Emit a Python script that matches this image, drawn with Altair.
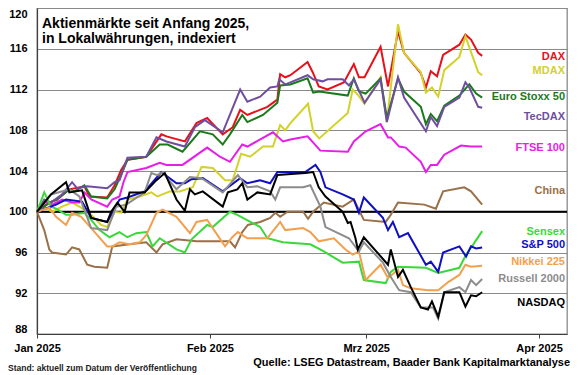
import altair as alt
import pandas as pd

FONT = "Liberation Sans, Arial, sans-serif"
BASE_DATE = pd.Timestamp("2025-01-01")

# ---- series: day offsets since 1 Jan 2025 and index values ----
dax_t = [0, 2.2, 3.6, 5.8, 8.5, 9.4, 12.6, 13.9, 15.1, 16.2, 19.6, 22.3, 23.2, 26.5, 28.6, 30.5, 33.3, 35.1, 36.4, 37.7,
         41.3, 43.1, 43.6, 44.5, 45.4, 48.5, 49.4, 50.5, 52.1, 55.0, 56.8, 57.7, 58.7, 61.6, 62.9, 64.7, 65.8, 68.8, 69.7,
         70.6, 71.7, 72.8, 75.7, 76.8, 77.8, 79.1, 79.8]
dax_v = [100, 100.9, 101.2, 102.2, 102.5, 101.5, 101.4, 102.6, 104.1, 105.1, 105.4, 107.6, 107.4, 106.9, 108.7, 109.2,
         107.6, 108.3, 110.0, 109.5, 110.3, 111.0, 113.5, 113.2, 113.4, 114.7, 113.7, 112.3, 112.0, 112.7, 114.5, 113.2,
         113.2, 116.2, 112.3, 117.7, 115.6, 113.6, 112.2, 113.8, 113.3, 115.4, 116.4, 117.4, 116.9, 115.6, 115.3]

mdax_t = [0, 1.4, 2.7, 4.5, 6.3, 7.9, 9.7, 11.5, 12.6, 13.9, 15.1, 16.2, 18.4, 20.5, 21.6, 23.8, 25.6, 27.9, 29.5, 31.5,
          33.7, 35.1, 36.6, 38.2, 40.5, 42.3, 43.6, 44.5, 45.4, 48.6, 49.5, 50.6, 55.7, 56.6, 57.5, 58.7, 61.6, 62.7, 64.7,
          65.8, 68.8, 69.7, 70.8, 71.9, 73.0, 75.7, 76.8, 79.1, 79.8]
mdax_v = [100, 100.4, 100, 100.5, 100.9, 100.4, 99.7, 98.7, 98.5, 100, 99.9, 101.2, 101.5, 101.9, 101.5, 102.0, 102.0,
          102.4, 104.4, 104.3, 103.1, 103.1, 105.7, 105.4, 106.4, 106.4, 108.5, 108.0, 108.7, 110.6, 107.9, 107.2, 109.7,
          112.0, 111.5, 110.6, 113.2, 108.8, 118.4, 115.6, 113.7, 111.7, 112.2, 111.3, 113.9, 115.2, 117.2, 113.7, 113.4]

estx_t = [0, 2.2, 3.6, 5.8, 6.7, 8.5, 9.7, 12.6, 13.9, 15.3, 16.2, 19.6, 22.0, 23.4, 26.1, 29.2, 31.5, 33.3, 34.6, 36.8,
          37.7, 40.5, 43.1, 43.6, 45.4, 48.5, 49.5, 50.6, 55.7, 56.8, 57.7, 58.9, 61.6, 62.7, 64.7, 65.8, 68.8, 69.7, 70.6,
          71.7, 73.0, 75.7, 77.5, 78.7, 79.8]
estx_v = [100, 100.9, 101.2, 102.2, 102.0, 102.6, 101.5, 101.3, 102.2, 103.9, 105.1, 105.4, 106.6, 106.6, 105.9, 107.9,
          107.6, 106.6, 107.6, 109.5, 108.8, 109.5, 110.7, 112.4, 112.5, 113.1, 111.7, 111.8, 111.4, 113.1, 111.8, 111.6,
          113.1, 109.2, 113.1, 111.8, 110.3, 108.6, 109.6, 108.9, 110.4, 111.4, 112.5, 111.6, 111.2]

tec_t = [0, 1.3, 2.5, 4.5, 6.3, 7.2, 9.0, 12.6, 13.9, 14.8, 16.2, 19.6, 21.4, 23.2, 26.5, 28.3, 30.1, 33.3, 36.4, 37.7,
         40.0, 41.8, 43.1, 43.4, 44.5, 45.4, 48.5, 49.5, 51.2, 52.1, 54.8, 55.9, 56.8, 58.7, 61.6, 62.7, 64.7, 65.8, 69.7,
         70.6, 71.7, 73.0, 75.7, 76.8, 77.5, 79.1, 79.8]
tec_v = [100, 101.2, 100.9, 101.7, 102.9, 102.3, 102.5, 102.3, 102.9, 103.1, 105.3, 105.4, 107.3, 106.9, 106.4, 108.3,
         109.0, 107.8, 112.0, 110.8, 111.3, 112.2, 112.3, 113.0, 112.5, 112.7, 113.4, 113.0, 112.8, 113.0, 113.0, 112.4,
         113.0, 110.7, 113.0, 108.8, 113.2, 111.2, 107.9, 109.3, 108.4, 110.3, 111.2, 112.7, 112.2, 110.3, 110.2]

ftse_t = [0, 1.6, 2.7, 4.5, 6.3, 7.6, 8.5, 9.7, 12.6, 13.5, 14.8, 15.5, 16.2, 19.6, 22.0, 23.2, 26.1, 30.5, 32.8, 34.6,
          36.8, 37.7, 42.3, 44.1, 45.4, 48.5, 50.8, 55.7, 56.8, 58.9, 61.6, 62.9, 63.4, 64.9, 66.1, 68.8, 69.7, 70.6, 71.7,
          73.0, 76.0, 77.8, 79.8]
ftse_v = [100, 101.0, 100.7, 101.2, 100.9, 100.9, 101.9, 101.2, 100.5, 101.2, 101.5, 102.9, 103.9, 104.3, 104.8, 104.6,
          104.6, 106.3, 105.4, 104.9, 106.6, 106.4, 107.8, 106.9, 107.1, 107.4, 106.0, 105.9, 106.9, 107.9, 108.6, 107.3,
          107.3, 106.4, 106.3, 104.9, 103.9, 104.6, 104.6, 105.6, 106.5, 106.4, 106.4]

china_t = [0, 1.3, 2.2, 2.7, 5.2, 6.3, 7.6, 9.0, 10.3, 12.6, 13.5, 16.6, 19.6, 21.4, 22.5, 25.0, 28.6, 34.6, 35.5, 36.8,
           37.8, 40.0, 41.8, 42.7, 43.6, 44.9, 47.7, 48.6, 49.5, 51.4, 54.8, 56.8, 58.6, 62.5, 63.4, 64.7, 69.4, 71.5,
           72.8, 76.6, 77.8, 79.8]
china_v = [100, 98.2, 96.3, 96.0, 95.8, 96.5, 96.3, 94.8, 94.6, 94.5, 96.6, 96.8, 97.0, 96.0, 96.8, 97.3, 97.1, 97.1,
           96.5, 98.0, 98.7, 99.0, 99.4, 99.9, 99.5, 100.0, 100.0, 99.3, 100.0, 100.9, 100.5, 101.2, 99.2, 99.0, 99.7,
           100.9, 100.7, 100.3, 102.0, 102.4, 102.0, 100.7]

sensex_t = [0, 1.3, 2.5, 3.4, 5.2, 6.3, 8.5, 9.7, 11.2, 13.0, 14.8, 16.2, 17.8, 19.6, 20.7, 22.0, 25.0, 26.5, 27.7, 30.5,
            31.5, 34.6, 35.9, 40.0, 41.3, 44.1, 49.0, 51.4, 54.8, 57.7, 58.6, 62.5, 63.4, 64.7, 69.7, 71.9, 75.7, 76.9,
            78.2, 79.8]
sensex_v = [100, 101.9, 100.5, 100.3, 99.7, 99.7, 99.9, 99.2, 98.2, 97.5, 98.0, 97.5, 97.9, 98.0, 96.6, 97.4, 96.3, 96.0,
            97.3, 98.7, 98.5, 100.0, 99.7, 98.5, 97.4, 97.0, 96.8, 96.1, 95.0, 95.1, 93.3, 93.0, 94.1, 94.6, 94.5, 94.0,
            94.5, 95.8, 96.8, 98.1]

spx_t = [0, 3.4, 5.2, 8.1, 9.7, 12.6, 13.5, 14.8, 16.2, 19.3, 22.3, 25.0, 26.5, 27.7, 29.7, 33.3, 36.4, 37.7, 40.0, 41.8,
         43.1, 48.1, 49.9, 50.8, 51.7, 54.8, 56.8, 57.7, 58.6, 62.0, 62.9, 63.8, 64.9, 66.5, 69.7, 70.6, 71.9, 72.8, 75.7,
         76.9, 77.8, 78.7, 79.8]
spx_v = [100, 100.7, 101.2, 101.0, 99.4, 99.0, 99.9, 101.2, 101.4, 102.0, 103.9, 102.8, 102.8, 103.2, 103.3, 102.0, 103.3,
         102.8, 103.1, 102.8, 103.9, 103.9, 104.6, 103.9, 102.4, 101.7, 101.2, 99.9, 101.4, 99.4, 98.2, 99.0, 97.5, 97.9,
         94.8, 95.1, 94.1, 96.0, 96.6, 95.6, 96.6, 96.4, 96.5]

nikkei_t = [0, 2.2, 3.4, 5.2, 6.3, 7.9, 9.7, 12.6, 13.5, 14.8, 16.6, 18.4, 19.6, 21.4, 22.5, 25.0, 27.4, 28.6, 30.5, 33.7,
            35.0, 36.0, 37.7, 41.3, 43.6, 44.5, 47.7, 49.0, 50.5, 53.2, 55.3, 56.6, 57.7, 58.9, 61.6, 62.9, 64.7, 65.6,
            67.0, 70.1, 71.9, 73.7, 75.7, 76.8, 77.8, 79.8]
nikkei_v = [100, 100.4, 99.5, 98.7, 99.9, 99.5, 98.4, 96.6, 96.6, 97.0, 96.8, 97.0, 97.7, 99.9, 100.2, 99.5, 97.9, 99.0,
            99.2, 96.6, 97.5, 98.0, 97.4, 97.4, 99.0, 98.2, 98.4, 98.0, 97.1, 97.4, 96.3, 95.8, 96.1, 93.3, 94.8, 93.5,
            94.3, 92.8, 92.5, 92.3, 92.3, 93.1, 93.8, 94.8, 94.6, 94.7]

russell_t = [0, 2.5, 5.8, 7.6, 9.7, 12.6, 14.2, 16.0, 19.3, 20.5, 21.6, 22.5, 25.0, 25.6, 27.4, 29.5, 33.3, 36.0, 37.7,
             39.5, 41.8, 42.7, 43.6, 47.7, 49.0, 50.8, 51.7, 55.9, 57.7, 58.6, 62.0, 63.4, 64.9, 67.0, 68.8, 71.0, 71.9,
             73.0, 75.7, 76.8, 77.8, 78.7, 79.8]
russell_v = [100, 101.7, 102.2, 101.5, 98.4, 98.2, 100.5, 100.7, 101.9, 103.8, 103.6, 103.9, 102.2, 102.5, 103.4, 103.3,
             101.9, 103.6, 102.4, 102.5, 102.0, 101.2, 102.4, 102.4, 102.6, 100.5, 98.5, 97.4, 96.1, 97.0, 95.0, 93.6,
             92.3, 92.1, 90.6, 90.6, 89.5, 92.1, 92.6, 92.1, 93.3, 92.8, 93.4]

nasdaq_t = [0, 2.5, 5.2, 5.8, 8.1, 9.7, 12.6, 13.3, 14.4, 15.7, 16.6, 19.3, 21.4, 22.9, 25.0, 26.5, 27.4, 28.3, 29.7,
            33.3, 34.2, 35.9, 36.8, 37.7, 39.5, 41.8, 43.1, 48.1, 49.5, 50.5, 51.7, 54.8, 55.7, 56.2, 57.1, 57.5, 58.6,
            62.9, 63.4, 64.7, 65.6, 67.0, 68.8, 70.1, 70.8, 71.9, 73.0, 75.7, 76.8, 77.8, 78.7, 79.8]
nasdaq_v = [100, 101.7, 102.9, 101.9, 102.1, 99.4, 99.0, 100.0, 100.9, 100.0, 101.9, 101.9, 103.1, 103.8, 101.2, 100.1,
            102.2, 101.7, 102.0, 100.5, 101.9, 102.2, 102.8, 101.2, 101.9, 101.7, 103.6, 103.8, 103.9, 102.4, 101.5,
            100.0, 98.9, 99.0, 97.4, 96.3, 97.5, 94.8, 96.3, 93.6, 94.3, 92.6, 90.6, 90.4, 91.2, 89.7, 92.1, 92.1, 90.7,
            91.8, 91.7, 92.1]

SERIES_NAMES = ["DAX", "MDAX", "Euro Stoxx 50", "TecDAX", "FTSE 100", "China", "Sensex",
                "S&P 500", "Nikkei 225", "Russell 2000", "NASDAQ"]
SERIES_COLORS = ["#e8101a", "#d2d22a", "#1a7a1a", "#6f4ea0", "#e61ee6", "#9a7048", "#3ad83a",
                 "#1010c0", "#f2a050", "#8c8c8c", "#000000"]
LABEL_Y = [115.2, 113.85, 111.25, 109.3, 106.3, 102.05, 98.0, 96.7, 95.1, 93.35, 91.0]

Y_TICKS = [88, 92, 96, 100, 104, 108, 112, 116, 120]
TITLE_LINES = ["Aktienmärkte seit Anfang 2025,", "in Lokalwährungen, indexiert"]
SOURCE = "Quelle: LSEG Datastream, Baader Bank Kapitalmarktanalyse"
STAND = "Stand: aktuell zum Datum der Veröffentlichung"

series_data = {
    "DAX": (dax_t, dax_v), "MDAX": (mdax_t, mdax_v), "Euro Stoxx 50": (estx_t, estx_v),
    "TecDAX": (tec_t, tec_v), "FTSE 100": (ftse_t, ftse_v), "China": (china_t, china_v),
    "Sensex": (sensex_t, sensex_v), "S&P 500": (spx_t, spx_v), "Nikkei 225": (nikkei_t, nikkei_v),
    "Russell 2000": (russell_t, russell_v), "NASDAQ": (nasdaq_t, nasdaq_v),
}

rows = []
for i, name in enumerate(SERIES_NAMES):
    t, v = series_data[name]
    for ti, vi in zip(t, v):
        rows.append({"series": name, "order": i,
                     "date": BASE_DATE + pd.Timedelta(hours=round(ti * 24)), "value": vi})
df = pd.DataFrame(rows)

labels_df = pd.DataFrame({"series": SERIES_NAMES, "value": LABEL_Y})

W, H = 530, 326

x_enc = alt.X(
    "date:T",
    scale=alt.Scale(domain=[alt.DateTime(year=2025, month=1, date=1),
                            alt.DateTime(year=2025, month=4, date=6)]),
    axis=alt.Axis(
        values=[alt.DateTime(year=2025, month=m, date=1) for m in [1, 2, 3, 4]],
        labelExpr="replace(timeFormat(datum.value, '%b %Y'), 'Mar', 'Mrz')",
        title=None, grid=False, domainColor="#404040", domainWidth=1.2,
        tickColor="#404040", tickSize=4, labelPadding=4, labelOverlap=False,
        labelFlush=False,
    ),
)
y_enc = alt.Y(
    "value:Q",
    scale=alt.Scale(domain=[88, 120], nice=False, zero=False),
    axis=alt.Axis(values=Y_TICKS, title=None, grid=True, gridColor="#8a8a8a",
                  gridWidth=1.2, domainColor="#404040", domainWidth=1.2,
                  ticks=False, labelPadding=10, labelFlush=1),
)
color_enc = alt.Color("series:N", scale=alt.Scale(domain=SERIES_NAMES, range=SERIES_COLORS), legend=None)

rule100 = alt.Chart(pd.DataFrame({"value": [100]})).mark_rule(
    color="black", strokeWidth=2).encode(y=y_enc)

lines = alt.Chart(df).mark_line(strokeWidth=2).encode(
    x=x_enc, y=y_enc, color=color_enc, detail="series:N",
    order="date:T",
)

labels = alt.Chart(labels_df).mark_text(
    align="right", baseline="middle", font=FONT, fontSize=11, fontWeight="bold"
).encode(x=alt.value(528), y=y_enc, text="series:N", color=color_enc)

title1 = alt.Chart(pd.DataFrame({"t": [TITLE_LINES[0]]})).mark_text(
    align="left", baseline="alphabetic", font=FONT, fontSize=14, fontWeight="bold", color="black"
).encode(x=alt.value(5), y=alt.value(20), text="t:N")

title2 = alt.Chart(pd.DataFrame({"t": [TITLE_LINES[1]]})).mark_text(
    align="left", baseline="alphabetic", font=FONT, fontSize=14, fontWeight="bold", color="black"
).encode(x=alt.value(5), y=alt.value(34.5), text="t:N")

source_txt = alt.Chart(pd.DataFrame({"t": [SOURCE]})).mark_text(
    align="right", baseline="alphabetic", font=FONT, fontSize=11, fontWeight="bold", color="black"
).encode(x=alt.value(533), y=alt.value(358), text="t:N")

stand_txt = alt.Chart(pd.DataFrame({"t": [STAND]})).mark_text(
    align="left", baseline="alphabetic", font=FONT, fontSize=8.5, fontWeight="bold", color="#222222"
).encode(x=alt.value(-29), y=alt.value(363), text="t:N")

chart = alt.layer(rule100, lines, labels, title1, title2, source_txt, stand_txt).properties(
    width=W, height=H,
    padding={"left": 29, "top": 0, "right": 5, "bottom": 41},
    autosize="none",
    background="white",
).configure_view(
    stroke="#8a8a8a", strokeWidth=1.3
).configure_axis(
    labelFont=FONT, labelFontSize=11, labelFontWeight="bold", labelColor="black"
)

chart.save("out.html", embed_options={"renderer": "svg", "actions": False})
